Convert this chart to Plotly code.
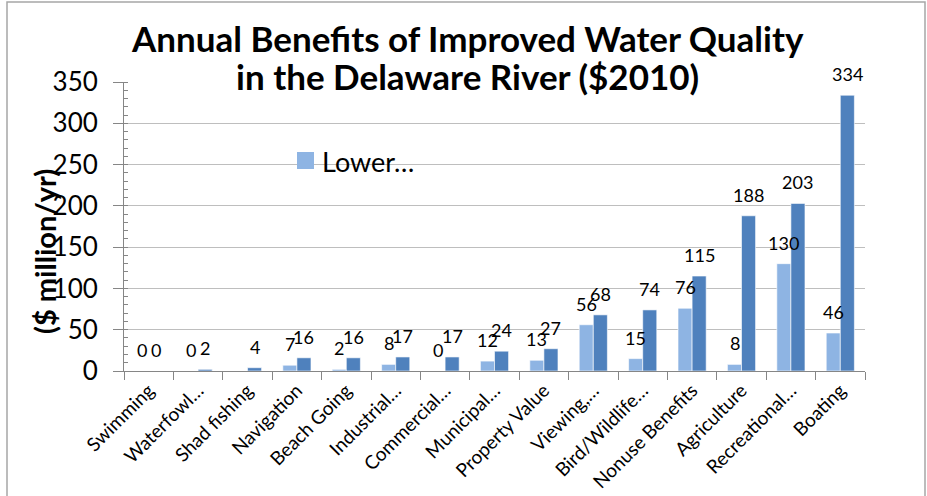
import plotly.graph_objects as go

# Benefit categories and estimates ($ million per year, 2010 dollars)
categories = [
    "Swimming", "Waterfowl…", "Shad fishing", "Navigation", "Beach Going",
    "Industrial…", "Commercial…", "Municipal…", "Property Value", "Viewing,…",
    "Bird/Wildlife…", "Nonuse Benefits", "Agriculture", "Recreational…", "Boating",
]
lower_values = [0, 0, None, 7, 2, 8, 0, 12, 13, 56, 15, 76, 8, 130, 46]
upper_values = [0, 2, 4, 16, 16, 17, 17, 24, 27, 68, 74, 115, 188, 203, 334]
y_ticks = [0, 50, 100, 150, 200, 250, 300, 350]

W, H = 927, 496
L, R, T, B = 124, 62, 82, 125
PW, PH = W - L - R, H - T - B


def px_x(px):
    return (px - L) / PW


def px_y(py):
    return (H - B - py) / PH


FONT = "Lato"
LOWER_C = "#8EB4E3"
UPPER_C = "#4F81BD"

fig = go.Figure()
fig.add_trace(go.Bar(
    x=categories, y=lower_values, name="Lower…",
    marker=dict(color=LOWER_C, line=dict(color="rgba(255,255,255,0.6)", width=1)),
    showlegend=False,
))
fig.add_trace(go.Bar(
    x=categories, y=upper_values, name="Upper…",
    marker=dict(color=UPPER_C, line=dict(color="rgba(255,255,255,0.6)", width=1)),
    showlegend=False,
))

# Value labels above each bar, drawn on top of all bars
for vals, shift in ((lower_values, -7), (upper_values, 7)):
    for cat, v in zip(categories, vals):
        if v is None:
            continue
        fig.add_annotation(
            x=cat, y=v, xref="x", yref="y", text=str(v), showarrow=False,
            xshift=shift, yshift=8, xanchor="center", yanchor="bottom",
            font=dict(family=FONT, size=18, color="#000000"),
        )

fig.update_layout(
    width=W, height=H,
    margin=dict(l=L, r=R, t=T, b=B, pad=0, autoexpand=False),
    paper_bgcolor="white", plot_bgcolor="white",
    barmode="group", bargap=0.43, bargroupgap=0,
    font=dict(family=FONT, color="#000000"),
    showlegend=False,
)

fig.update_xaxes(
    type="category", tickangle=-45, tickson="boundaries", automargin=False,
    ticks="outside", ticklen=8, tickcolor="#868686",
    showline=True, linecolor="#868686", linewidth=1,
    showgrid=False, tickfont=dict(family=FONT, size=19, color="#000000"),
)
fig.update_yaxes(
    range=[0, 350], tickvals=y_ticks, automargin=False,
    ticks="outside", ticklen=10, tickcolor="#868686",
    showline=True, linecolor="#868686", linewidth=1,
    showgrid=True, gridcolor="#BEBEBE", gridwidth=1, zeroline=False,
    minor=dict(dtick=10, ticks="inside", ticklen=4, tickcolor="#868686", showgrid=False),
    tickfont=dict(family=FONT, size=26, color="#000000"),
    ticklabelstandoff=10,
)

# Title (two centred lines)
fig.add_annotation(
    x=px_x(467), y=px_y(38), xref="paper", yref="paper",
    text="<b>Annual Benefits of Improved Water Quality</b>", showarrow=False,
    font=dict(family=FONT, size=35, color="#000000"), xanchor="center", yanchor="middle",
)
fig.add_annotation(
    x=px_x(467), y=px_y(76), xref="paper", yref="paper",
    text="<b>in the Delaware River ($2010)</b>", showarrow=False,
    font=dict(family=FONT, size=35, color="#000000"), xanchor="center", yanchor="middle",
)

# Y-axis title
fig.add_annotation(
    x=px_x(44), y=px_y(252), xref="paper", yref="paper",
    text="<b>($ million/yr)</b>", showarrow=False, textangle=-90,
    font=dict(family=FONT, size=29, color="#000000"), xanchor="center", yanchor="middle",
)

# Legend entry for the lower estimate
fig.add_shape(
    type="rect", xref="paper", yref="paper",
    x0=px_x(297), x1=px_x(314), y0=px_y(169), y1=px_y(152),
    fillcolor=LOWER_C, line=dict(width=0),
)
fig.add_annotation(
    x=px_x(320), y=px_y(161), xref="paper", yref="paper",
    text="Lower…", showarrow=False,
    font=dict(family=FONT, size=27, color="#000000"), xanchor="left", yanchor="middle",
)

# Chart frame
fig.add_shape(
    type="rect", xref="paper", yref="paper",
    x0=px_x(7), x1=px_x(925), y0=px_y(500), y1=px_y(2),
    line=dict(color="#A6A6A6", width=1.5), fillcolor="rgba(0,0,0,0)", layer="below",
)

fig.write_html("out.html")
